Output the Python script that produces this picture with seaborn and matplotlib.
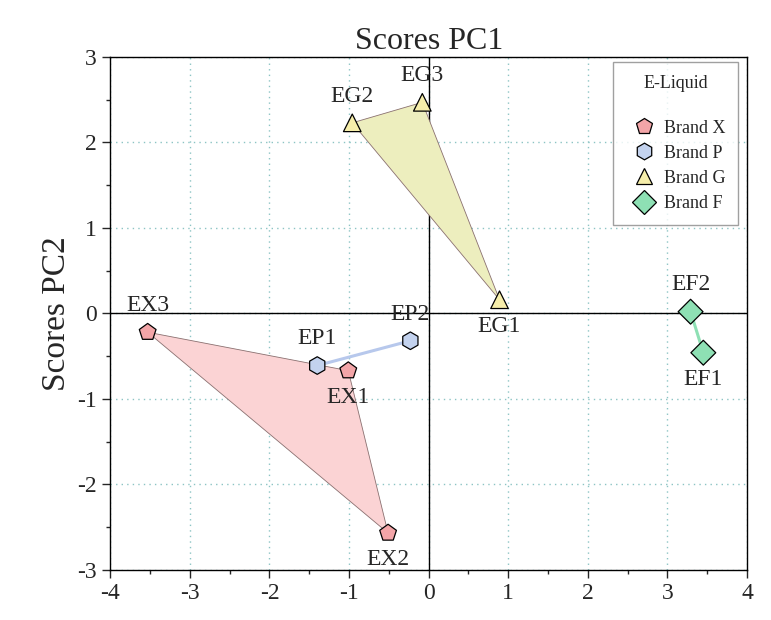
import numpy as np
import pandas as pd
import seaborn as sns
from matplotlib import pyplot as plt
from matplotlib.patches import Polygon

# sample scores
names = ['EX1', 'EX2', 'EX3', 'EP1', 'EP2', 'EG1', 'EG2', 'EG3', 'EF1', 'EF2']
brand = ['Brand X', 'Brand X', 'Brand X', 'Brand P', 'Brand P',
         'Brand G', 'Brand G', 'Brand G', 'Brand F', 'Brand F']
pc1 = [-1.01, -0.51, -3.53, -1.40, -0.23, 0.89, -0.96, -0.08, 3.45, 3.29]
pc2 = [-0.67, -2.57, -0.22, -0.61, -0.32, 0.16, 2.23, 2.47, -0.46, 0.02]
label_side = ['below', 'below', 'above', 'above', 'above',
              'below', 'above', 'above', 'below', 'above']

brands = ['Brand X', 'Brand P', 'Brand G', 'Brand F']
colors = {'Brand X': '#F3A5A8', 'Brand P': '#C3D2EE', 'Brand G': '#F6EEAA', 'Brand F': '#8EE0B4'}
fills = {'Brand X': '#FBD3D4', 'Brand G': '#EDEEBE'}
lines = {'Brand P': '#B7C8EC', 'Brand F': '#8EE0B4'}
markers = {'Brand X': 'p', 'Brand P': 'h', 'Brand G': '^', 'Brand F': 'D'}

df = pd.DataFrame({'name': names, 'Brand': brand, 'PC1': pc1, 'PC2': pc2, 'side': label_side})

sns.set_style('white')
plt.rcParams['font.family'] = ['Liberation Serif', 'DejaVu Serif']
plt.rcParams['axes.unicode_minus'] = False

fig, ax = plt.subplots(figsize=(7.71, 6.2), dpi=100)
fig.subplots_adjust(left=0.143, right=0.969, top=0.908, bottom=0.081)

ax.grid(True, color='#8CC4C4', linestyle=(0, (1, 3)), linewidth=1.0)
ax.axhline(0, color='black', linewidth=1.0, zorder=1)
ax.axvline(0, color='black', linewidth=1.0, zorder=1)

for b in brands:
    sub = df[df.Brand == b]
    pts = sub[['PC1', 'PC2']].values
    if b in fills:
        ax.add_patch(Polygon(pts, closed=True, facecolor=fills[b], edgecolor='#8a7070',
                             linewidth=0.6, zorder=2))
    else:
        ax.plot(pts[:, 0], pts[:, 1], color=lines[b], linewidth=2.2, zorder=2)

sns.scatterplot(data=df, x='PC1', y='PC2', hue='Brand', style='Brand', hue_order=brands,
                style_order=brands, palette=colors, markers=markers, s=160,
                edgecolor='black', linewidth=0.9, zorder=3, ax=ax)

for _, r in df.iterrows():
    dy = 0.19 if r.side == 'above' else -0.19
    va = 'bottom' if r.side == 'above' else 'top'
    ax.text(r.PC1, r.PC2 + dy, r['name'], ha='center', va=va, fontsize=17)

ax.set_xlim(-4, 4)
ax.set_ylim(-3, 3)
ax.set_xticks(np.arange(-4, 5, 1))
ax.set_xticks(np.arange(-3.5, 4, 1), minor=True)
ax.set_yticks(np.arange(-3, 4, 1))
ax.set_yticks(np.arange(-2.5, 3, 1), minor=True)
ax.tick_params(which='major', direction='out', length=6, width=1, labelsize=17, bottom=True, left=True)
ax.tick_params(which='minor', direction='out', length=3, width=1, bottom=True, left=True)
for s in ax.spines.values():
    s.set_color('black')
    s.set_linewidth(1.0)

ax.set_xlabel('')
ax.set_ylabel('Scores PC2', fontsize=24, labelpad=4)
ax.set_title('Scores PC1', fontsize=23, pad=6)

handles, labels = ax.get_legend_handles_labels()
for h in handles:
    h.set_markersize(12)
leg = ax.legend(handles, labels, title='E-Liquid\n', loc='upper right', fontsize=13,
                title_fontsize=13, frameon=True, fancybox=False, edgecolor='#888888',
                borderpad=0.7, handletextpad=0.1, labelspacing=0.45,
                borderaxespad=0.0, bbox_to_anchor=(0.986, 0.99))
leg.get_frame().set_linewidth(1.0)

plt.savefig('out.png', dpi=100)
